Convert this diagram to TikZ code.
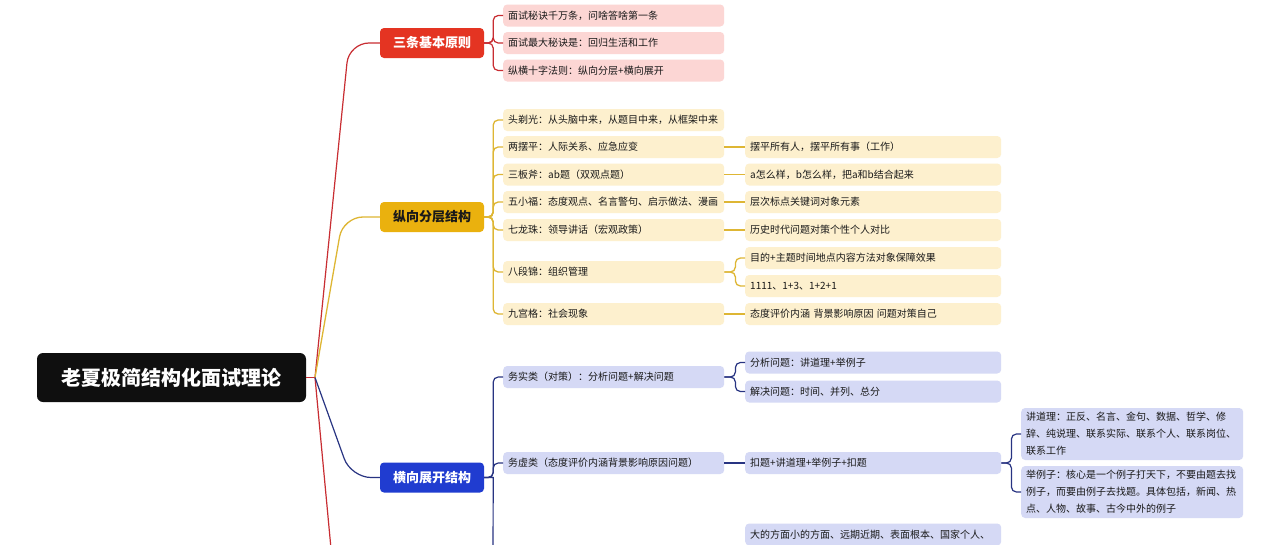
\documentclass[tikz,border=0pt]{standalone}
\usepackage{fontspec}
\newfontfamily\cjk{Noto Sans CJK SC}
\definecolor{rootc}{RGB}{15,15,15}
\definecolor{redc}{RGB}{228,52,34}
\definecolor{redl}{RGB}{200,45,50}
\definecolor{pinkc}{RGB}{252,214,212}
\definecolor{goldc}{RGB}{234,177,14}
\definecolor{goldl}{RGB}{222,182,52}
\definecolor{goldf}{RGB}{253,240,206}
\definecolor{bluec}{RGB}{32,60,208}
\definecolor{bluel}{RGB}{40,52,130}
\definecolor{bluef}{RGB}{213,217,245}
\definecolor{txtc}{RGB}{25,25,25}
\tikzset{
  rootbox/.style={fill=rootc, rounded corners=6pt, text=white, font=\cjk\bfseries\fontsize{20}{24}\selectfont, minimum width=269pt, minimum height=49pt, inner sep=0pt},
  branchbox/.style={rounded corners=4pt, font=\cjk\bfseries\fontsize{13}{16}\selectfont, minimum width=104pt, minimum height=30pt, inner sep=0pt},
  leaf/.style={rounded corners=4pt, font=\cjk\fontsize{10}{17}\selectfont, text=txtc, anchor=west, minimum height=22pt, inner xsep=5pt, inner ysep=0pt, text width=211pt, align=left},
  leafw/.style={leaf, text width=246pt},
  leafx/.style={leaf, text width=212pt, minimum height=52pt},
  redleaf/.style={leaf, fill=pinkc},
  goldleaf/.style={leaf, fill=goldf},
  goldleafw/.style={leafw, fill=goldf},
  blueleaf/.style={leaf, fill=bluef},
  blueleafw/.style={leafw, fill=bluef},
  blueleafx/.style={leafx, fill=bluef},
  redline/.style={draw=redl, line width=1.2pt},
  goldline/.style={draw=goldl, line width=1.3pt},
  blueline/.style={draw=bluel, line width=1.2pt},
  bracket/.style={rounded corners=5pt},
}
\begin{document}
\begin{tikzpicture}[x=1pt,y=-1pt]
\useasboundingbox (0,0) rectangle (1280,544);
\fill[white] (0,0) rectangle (1280,544);
\clip (0,0) rectangle (1280,544);

% root
\node[rootbox] (root) at (171.5,377.5) {老夏极简结构化面试理论};
\coordinate (hub) at (315,377.5);

% branches
\node[branchbox, fill=redc, text=white] (b1) at (432,43) {三条基本原则};
\node[branchbox, fill=goldc, text=txtc] (b2) at (432,217) {纵向分层结构};
\node[branchbox, fill=bluec, text=white] (b3) at (432,477.5) {横向展开结构};

\coordinate (k1) at (349,43);
\coordinate (k2) at (343,217);
\coordinate (k3) at (351,477.5);
\coordinate (redend) at (333,570);

% branch 1 children
\node[redleaf] (r1) at (503,15.5) {面试秘诀千万条，问啥答啥第一条};
\node[redleaf] (r2) at (503,43) {面试最大秘诀是：回归生活和工作};
\node[redleaf] (r3) at (503,70.5) {纵横十字法则：纵向分层+横向展开};

% branch 2 children
\node[goldleaf] (g1) at (503,120) {头剃光：从头脑中来，从题目中来，从框架中来};
\node[goldleaf] (g2) at (503,147) {两摆平：人际关系、应急应变};
\node[goldleaf] (g3) at (503,174.5) {三板斧：ab题（双观点题）};
\node[goldleaf] (g4) at (503,202) {五小福：态度观点、名言警句、启示做法、漫画};
\node[goldleaf] (g5) at (503,230) {七龙珠：领导讲话（宏观政策）};
\node[goldleaf] (g6) at (503,272) {八段锦：组织管理};
\node[goldleaf] (g7) at (503,314) {九宫格：社会现象};

\node[goldleafw] (h2) at (745,147) {摆平所有人，摆平所有事（工作）};
\node[goldleafw] (h3) at (745,174.5) {a怎么样，b怎么样，把a和b结合起来};
\node[goldleafw] (h4) at (745,202) {层次标点关键词对象元素};
\node[goldleafw] (h5) at (745,230) {历史时代问题对策个性个人对比};
\node[goldleafw] (h6a) at (745,258) {目的+主题时间地点内容方法对象保障效果};
\node[goldleafw] (h6b) at (745,286) {1111、1+3、1+2+1};
\node[goldleafw] (h7) at (745,314) {态度评价内涵 背景影响原因 问题对策自己};

% branch 3 children
\node[blueleaf] (w1) at (503,377) {务实类（对策）：分析问题+解决问题};
\node[blueleaf] (w2) at (503,463) {务虚类（态度评价内涵背景影响原因问题）};
\coordinate (b3end) at (493,570);

\node[blueleafw] (x1a) at (745,362.5) {分析问题：讲道理+举例子};
\node[blueleafw] (x1b) at (745,391.5) {解决问题：时间、并列、总分};
\node[blueleafw] (x2) at (745,463) {扣题+讲道理+举例子+扣题};
\node[blueleafw] (x3) at (745,534.5) {大的方面小的方面、远期近期、表面根本、国家个人、};

\node[blueleafx] (y1) at (1021,434) {讲道理：正反、名言、金句、数据、哲学、修\\辞、纯说理、联系实际、联系个人、联系岗位、\\联系工作};
\node[blueleafx] (y2) at (1021,492) {举例子：核心是一个例子打天下，不要由题去找\\例子，而要由例子去找题。具体包括，新闻、热\\点、人物、故事、古今中外的例子};

% connectors root
\draw[redline] (root.east) -- (hub);
\draw[redline, rounded corners=20pt] (hub) -- (k1) -- (b1.west);
\draw[redline] (hub) -- (redend);
\draw[goldline, rounded corners=20pt] (hub) -- (k2) -- (b2.west);
\draw[blueline, rounded corners=20pt] (hub) -- (k3) -- (b3.west);

% branch 1 connectors
\foreach \n in {r1,r2,r3}
  \draw[redline, bracket] (b1.east) -- ++(9,0) |- (\n.west);

% branch 2 connectors
\foreach \n in {g1,g2,g3,g4,g5,g6,g7}
  \draw[goldline, bracket] (b2.east) -- ++(9,0) |- (\n.west);
\draw[goldline] (g2.east) -- (h2.west);
\draw[goldline] (g3.east) -- (h3.west);
\draw[goldline] (g4.east) -- (h4.west);
\draw[goldline] (g5.east) -- (h5.west);
\draw[goldline] (g7.east) -- (h7.west);
\foreach \n in {h6a,h6b}
  \draw[goldline, bracket] (g6.east) -- ++(11,0) |- (\n.west);

% branch 3 connectors
\foreach \n in {w1,w2}
  \draw[blueline, bracket] (b3.east) -- ++(9,0) |- (\n.west);
\draw[blueline] (b3.east) -- ++(9,0) -- (b3end);
\foreach \n in {x1a,x1b}
  \draw[blueline, bracket] (w1.east) -- ++(11,0) |- (\n.west);
\draw[blueline] (w2.east) -- (x2.west);
\foreach \n in {y1,y2}
  \draw[blueline, bracket] (x2.east) -- ++(10,0) |- (\n.west);
\end{tikzpicture}
\end{document}
